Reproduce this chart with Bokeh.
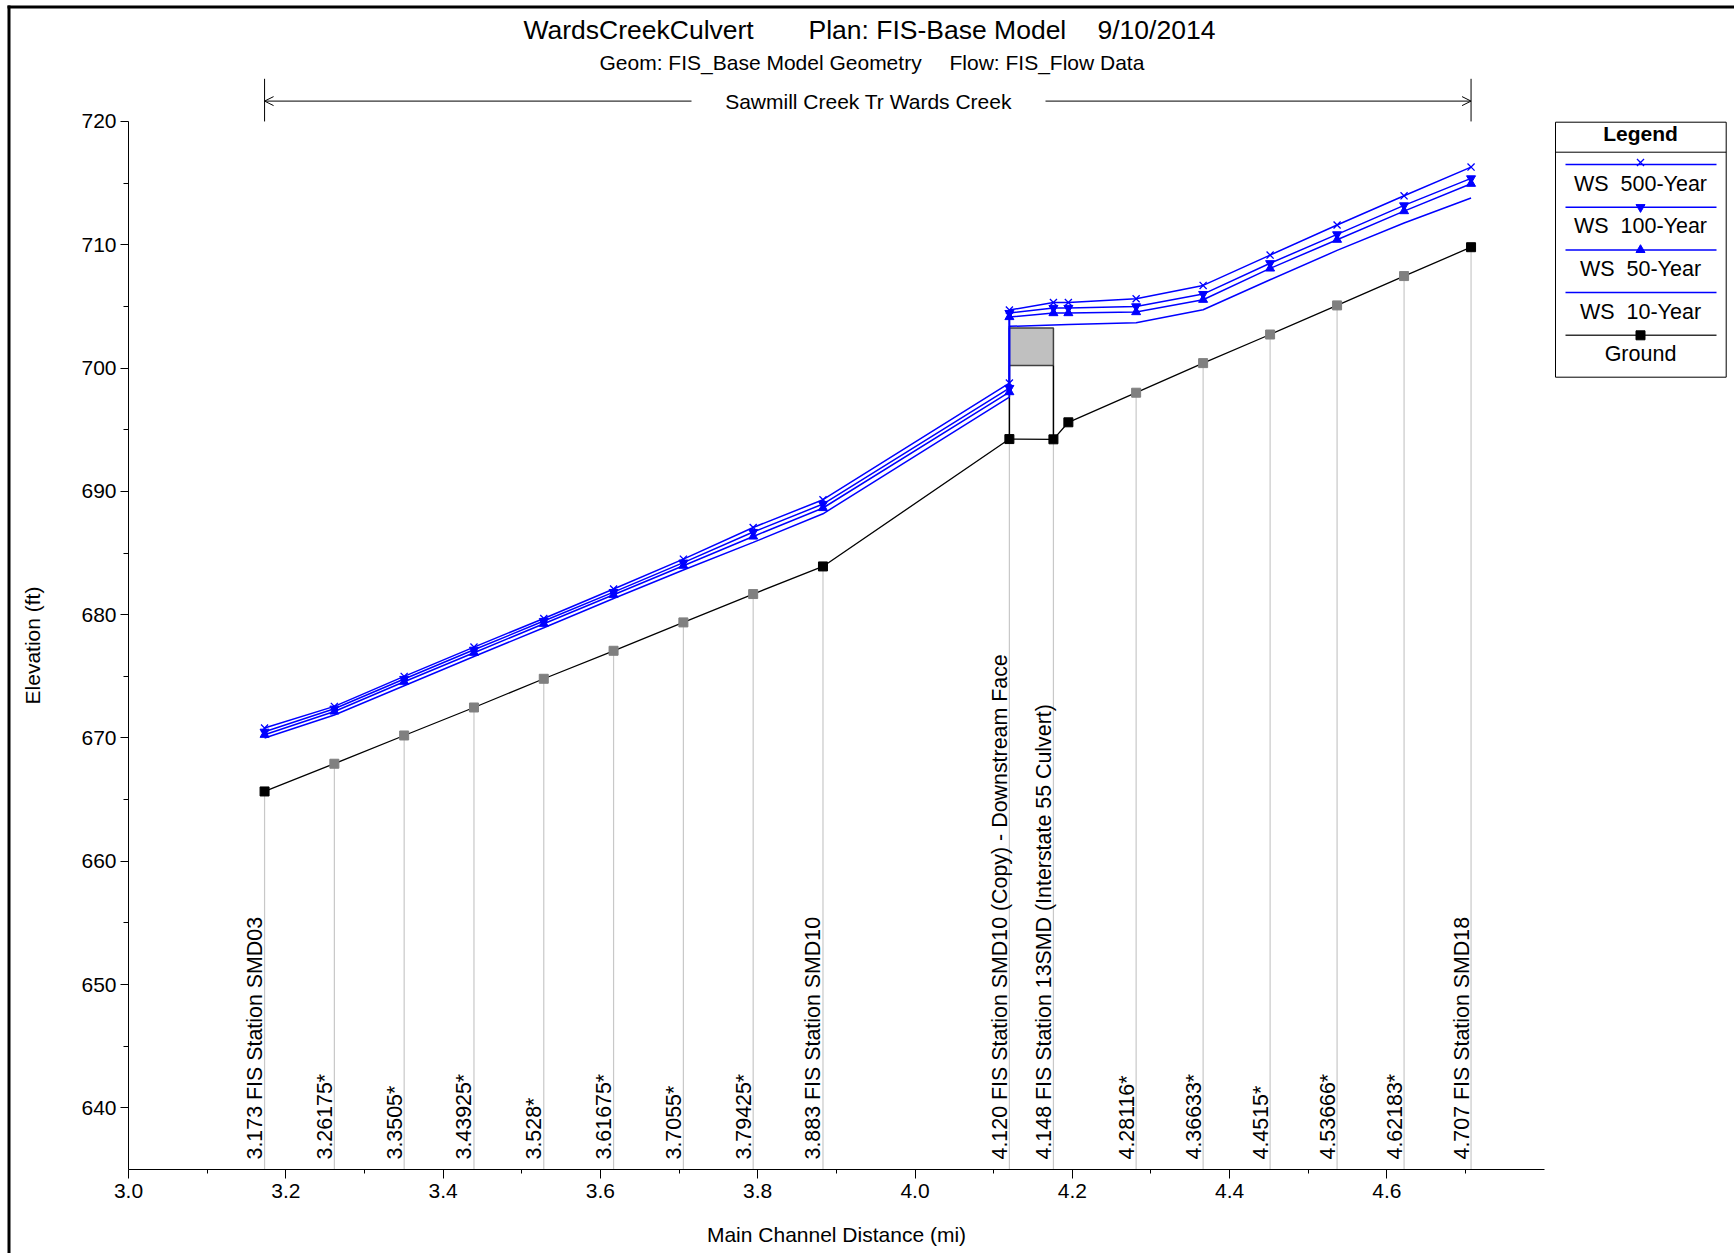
import math
from bokeh.plotting import figure
from bokeh.models import (Range1d, FixedTicker, Label, Arrow, OpenHead, BoxAnnotation,
                          ColumnDataSource, PrintfTickFormatter)
from bokeh.transform import factor_cmap
from bokeh.core.properties import value
from bokeh.embed import file_html
from bokeh.resources import INLINE

# ---------------- data ----------------
ground_x = [3.173, 3.26175, 3.3505, 3.43925, 3.528, 3.61675, 3.7055, 3.79425, 3.883,
            4.120, 4.176, 4.195, 4.28116, 4.36633, 4.4515, 4.53666, 4.62183, 4.707]
ground_el = [665.66, 667.91, 670.20, 672.47, 674.80, 677.07, 679.37, 681.67, 683.91,
             694.24, 694.22, 695.60, 698.00, 700.40, 702.72, 705.08, 707.46, 709.80]
ground_kind = ["XS", "Interp", "Interp", "Interp", "Interp", "Interp", "Interp", "Interp", "XS",
               "XS", "XS", "XS", "Interp", "Interp", "Interp", "Interp", "Interp", "XS"]

ws_x = [3.173, 3.26175, 3.3505, 3.43925, 3.528, 3.61675, 3.7055, 3.79425, 3.883,
        4.120, 4.120, 4.176, 4.195, 4.28116, 4.36633, 4.4515, 4.53666, 4.62183, 4.707]
ws_500 = [670.80, 672.56, 674.99, 677.37, 679.69, 682.08, 684.50, 687.07, 689.32,
          698.78, 704.70, 705.32, 705.32, 705.62, 706.70, 709.16, 711.60, 713.97, 716.30]
ws_100 = [670.50, 672.37, 674.78, 677.15, 679.48, 681.83, 684.22, 686.70, 688.97,
          698.38, 704.46, 704.87, 704.87, 705.00, 706.00, 708.50, 710.84, 713.19, 715.38]
ws_50 = [670.26, 672.15, 674.56, 676.91, 679.26, 681.61, 683.97, 686.34, 688.65,
         698.05, 704.14, 704.46, 704.46, 704.54, 705.54, 708.08, 710.41, 712.73, 714.95]
ws_10 = [669.99, 671.86, 674.23, 676.61, 678.94, 681.31, 683.62, 685.86, 688.18,
         697.65, 703.38, 703.49, 703.53, 703.67, 704.73, 707.16, 709.54, 711.76, 713.79]

station_x = [3.173, 3.26175, 3.3505, 3.43925, 3.528, 3.61675, 3.7055, 3.79425, 3.883,
             4.120, 4.176, 4.28116, 4.36633, 4.4515, 4.53666, 4.62183, 4.707]
station_labels = ["3.173 FIS Station SMD03", "3.26175*", "3.3505*", "3.43925*", "3.528*",
                  "3.61675*", "3.7055*", "3.79425*", "3.883 FIS Station SMD10",
                  "4.120 FIS Station SMD10 (Copy) - Downstream Face",
                  "4.148 FIS Station 13SMD (Interstate 55 Culvert)",
                  "4.28116*", "4.36633*", "4.4515*", "4.53666*", "4.62183*",
                  "4.707 FIS Station SMD18"]

culvert_x = [4.120, 4.176]
deck_low = 700.2
deck_high = 703.25

x_ticks = [3.0, 3.2, 3.4, 3.6, 3.8, 4.0, 4.2, 4.4, 4.6]
x_minor = [3.1, 3.3, 3.5, 3.7, 3.9, 4.1, 4.3, 4.5, 4.7]
y_ticks = [640, 650, 660, 670, 680, 690, 700, 710, 720]
y_minor = [645, 655, 665, 675, 685, 695, 705, 715]

legend_names = ["WS\u00a0 500-Year", "WS\u00a0 100-Year", "WS\u00a0 50-Year",
                "WS\u00a0 10-Year", "Ground"]

title_parts = ["WardsCreekCulvert", "Plan: FIS-Base Model", "9/10/2014"]
subtitle_parts = ["Geom: FIS_Base Model Geometry", "Flow: FIS_Flow Data"]
reach_name = "Sawmill Creek Tr Wards Creek"
x_label = "Main Channel Distance (mi)"
y_label = "Elevation (ft)"

# ---------------- layout (pixel grid of the page) ----------------
W, H = 1734, 1253
AX_L, AX_B = 128, 1169          # pixel position of the axes
PPX, PPY = 786.5, 12.33         # pixels per mile / per foot
X0, Y0 = 3.0, 635.0
X_END, Y_END = 4.8, 720.0


def dx(px):
    return X0 + (px - AX_L) / PPX


def dy(py):
    return Y0 + (AX_B - py) / PPY


FONT = value("Liberation Sans")
BLUE = "#0000ff"
TXT = "21px"

p = figure(width=W, height=H, x_range=Range1d(dx(0), dx(W)), y_range=Range1d(dy(H), dy(0)),
           min_border=0, min_border_left=0, min_border_right=0, min_border_top=0,
           min_border_bottom=0, output_backend="svg", toolbar_location=None, title=None)
p.outline_line_color = None
p.xgrid.visible = False
p.ygrid.visible = False
p.background_fill_color = "white"
p.border_fill_color = "white"

for ax, ticks, minor, bounds, loc in ((p.xaxis[0], x_ticks, x_minor, (X0, X_END), Y0),
                                      (p.yaxis[0], y_ticks, y_minor, (Y0, Y_END), X0)):
    ax.fixed_location = loc
    ax.ticker = FixedTicker(ticks=ticks, minor_ticks=minor)
    ax.bounds = bounds
    ax.axis_line_color = "black"
    ax.major_tick_line_color = "black"
    ax.minor_tick_line_color = "black"
    ax.major_tick_in = 0
    ax.minor_tick_in = 0
    ax.major_label_text_font = "Liberation Sans"
    ax.major_label_text_font_size = TXT
    ax.major_label_text_color = "black"

p.xaxis.formatter = PrintfTickFormatter(format="%.1f")
p.xaxis.major_tick_out = 9
p.xaxis.minor_tick_out = 4
p.xaxis.major_label_standoff = 5
p.yaxis.major_tick_out = 8
p.yaxis.minor_tick_out = 5
p.yaxis.major_label_standoff = 4

p.add_layout(Label(x=dx(836), y=dy(1234), text=x_label, text_align="center",
                   text_baseline="middle", text_font="Liberation Sans",
                   text_font_size=TXT, text_color="black"))
p.add_layout(Label(x=dx(32), y=dy(645), text=y_label, angle=math.pi / 2, text_align="center",
                   text_baseline="middle", text_font="Liberation Sans",
                   text_font_size=TXT, text_color="black"))

# ---------------- station lines and labels ----------------
g_lookup = dict(zip(ground_x, ground_el))
station_top = [g_lookup[x] for x in station_x]
p.segment(x0=station_x, y0=[Y0] * len(station_x), x1=station_x, y1=station_top,
          line_color="#c8c8c8", line_width=1.2)
p.text(x=station_x, y=[Y0] * len(station_x), text=station_labels, angle=math.pi / 2,
       text_align="left", text_baseline="middle", x_offset=-9.5, y_offset=-10,
       text_font=FONT, text_font_size="21.4px", text_color="black")

# ---------------- culvert ----------------
p.quad(left=[culvert_x[0]], right=[culvert_x[1]], bottom=[deck_low], top=[deck_high],
       fill_color="#c0c0c0", line_color="#404040", line_width=1.5)
p.segment(x0=culvert_x, y0=[g_lookup[x] for x in culvert_x], x1=culvert_x,
          y1=[deck_low, deck_low], line_color="black", line_width=1.5)

# ---------------- ground ----------------
gsrc = ColumnDataSource(dict(x=ground_x, y=ground_el, kind=ground_kind))
p.line("x", "y", source=gsrc, line_color="black", line_width=1.3)
cmap = factor_cmap("kind", ["#000000", "#808080"], ["XS", "Interp"])
p.scatter("x", "y", source=gsrc, marker="square", size=9, fill_color=cmap, line_color=cmap)

# ---------------- water surfaces ----------------
series = [(ws_500, "x"), (ws_100, "inverted_triangle"), (ws_50, "triangle"), (ws_10, None)]
for ys, mk in series[::-1]:
    p.line(ws_x, ys, line_color=BLUE, line_width=1.5)
    if mk == "x":
        p.scatter(ws_x, ys, marker="x", size=10, line_color=BLUE, line_width=1.3)
    elif mk:
        p.scatter(ws_x, ys, marker=mk, size=9, fill_color=BLUE, line_color=BLUE)

# ---------------- header ----------------
for txt, px in zip(title_parts, [523, 808, 1097]):
    p.add_layout(Label(x=dx(px), y=dy(29.5), text=txt, text_align="left",
                       text_baseline="middle", text_font="Liberation Sans",
                       text_font_size="26.5px", text_color="black"))
for txt, px in zip(subtitle_parts, [599, 949]):
    p.add_layout(Label(x=dx(px), y=dy(61.5), text=txt, text_align="left",
                       text_baseline="middle", text_font="Liberation Sans",
                       text_font_size=TXT, text_color="black"))

reach_y = dy(100.6)
p.segment(x0=[ground_x[0], ground_x[-1]], y0=[dy(78.3)] * 2, x1=[ground_x[0], ground_x[-1]],
          y1=[Y_END] * 2, line_color="black", line_width=1)
p.add_layout(Arrow(end=OpenHead(size=9, line_width=1), x_start=dx(691), y_start=reach_y,
                   x_end=ground_x[0], y_end=reach_y, line_width=1))
p.add_layout(Arrow(end=OpenHead(size=9, line_width=1), x_start=dx(1045), y_start=reach_y,
                   x_end=ground_x[-1], y_end=reach_y, line_width=1))
p.add_layout(Label(x=dx(868), y=dy(101), text=reach_name, text_align="center",
                   text_baseline="middle", text_font="Liberation Sans",
                   text_font_size=TXT, text_color="black"))

# ---------------- legend ----------------
LX0, LX1, LT, LB = 1555, 1725.7, 121.7, 376.7
LCX = 1640
STEP = 42.7
p.quad(left=[dx(LX0)], right=[dx(LX1)], top=[dy(LT)], bottom=[dy(LB)], fill_color="white",
       line_color="black", line_width=1)
p.segment(x0=[dx(LX0)], y0=[dy(151.7)], x1=[dx(LX1)], y1=[dy(151.7)], line_color="black",
          line_width=1)
p.add_layout(Label(x=dx(LCX), y=dy(133), text="Legend", text_align="center",
                   text_baseline="middle", text_font="Liberation Sans",
                   text_font_size=TXT, text_font_style="bold", text_color="black"))
leg_markers = ["x", "inverted_triangle", "triangle", None, "square"]
leg_colors = [BLUE, BLUE, BLUE, BLUE, "#333333"]
for i, (name, mk, col) in enumerate(zip(legend_names, leg_markers, leg_colors)):
    ly = dy(164 + STEP * i)
    p.line([dx(1565), dx(1716)], [ly, ly], line_color=col, line_width=1.5)
    if mk == "x":
        p.scatter([dx(LCX)], [dy(162 + STEP * i)], marker="x", size=10, line_color=BLUE,
                  line_width=1.3)
    elif mk == "square":
        p.scatter([dx(LCX)], [ly], marker="square", size=9, fill_color="black",
                  line_color="black")
    elif mk:
        p.scatter([dx(LCX)], [ly], marker=mk, size=9, fill_color=BLUE, line_color=BLUE)
    p.add_layout(Label(x=dx(LCX), y=dy(183 + STEP * i), text=name, text_align="center",
                       text_baseline="middle", text_font="Liberation Sans",
                       text_font_size="21.5px", text_color="black"))

# ---------------- outer border ----------------
p.add_layout(BoxAnnotation(left=7, right=10, top=5, bottom=H, left_units="canvas",
                           right_units="canvas", top_units="canvas", bottom_units="canvas",
                           fill_color="black", fill_alpha=1, line_color=None))
p.add_layout(BoxAnnotation(left=7, right=W, top=5, bottom=8, left_units="canvas",
                           right_units="canvas", top_units="canvas", bottom_units="canvas",
                           fill_color="black", fill_alpha=1, line_color=None))

open("out.html", "w").write(file_html(p, INLINE))
